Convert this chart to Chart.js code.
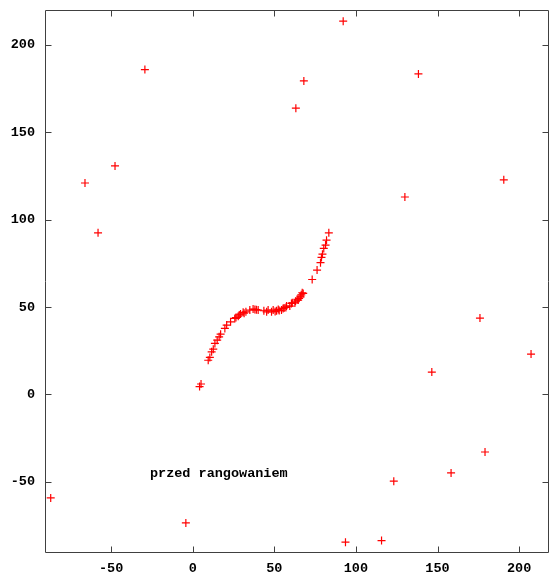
<!DOCTYPE html>
<html>
<head>
<meta charset="utf-8">
<script src="https://cdn.jsdelivr.net/npm/chart.js@4/dist/chart.umd.min.js"></script>
<style>
  body { margin: 0; background: #fff; }
</style>
</head>
<body>
<canvas id="scatter" width="550" height="577"></canvas>
<script>
// points on the curve
const curveX = [4.2, 5.1, 9.5, 10.5, 11.6, 12.6, 13.6, 15.0, 16.2, 17.1, 19.7, 20.8, 23.2, 25.8, 26.5, 27.9, 28.5, 29.3,
  30.9, 31.5, 32.6, 35.0, 37.0, 38.1, 39.0, 40.1, 43.6, 45.3, 46.2, 48.3, 49.3, 50.5, 51.4, 52.4, 53.0, 54.4, 55.4, 56.0, 57.1, 57.5,
  59.5, 60.5, 61.0, 62.6, 63.0, 64.0, 64.6, 65.2, 66.1, 66.5, 67.1, 67.7, 73.2, 76.2, 78.3, 78.9, 79.5, 80.3, 81.4, 82.0, 83.4];
const curveY = [4.5, 6.0, 19.6, 21.2, 24.4, 25.9, 29.2, 31.1, 33.0, 34.5, 37.8, 39.7, 41.6, 43.5, 44.0, 44.8, 45.5, 46.0,
  47.0, 46.5, 47.3, 48.3, 48.9, 48.7, 48.5, 48.3, 47.9, 47.3, 48.3, 47.3, 48.3, 47.5, 47.9, 48.7, 48.0, 48.3, 49.2, 49.5, 49.8, 50.6,
  50.6, 52.1, 52.5, 52.4, 53.4, 54.5, 54.0, 55.0, 55.9, 57.0, 58.2, 57.8, 65.8, 71.2, 75.4, 78.4, 80.3, 83.6, 85.5, 88.3, 92.5];

// scattered points
const outX = [-87.0, -4.2, 93.6, 115.7, 123.2, 158.3, 179.1, 146.5, 207.3, 176.0, 190.6, 130.0,
  138.3, 92.2, 68.1, 63.2, -29.3, -66.0, -47.6, -58.0];
const outY = [-59.2, -73.5, -84.5, -83.6, -49.6, -44.9, -32.9, 12.8, 23.1, 43.7, 122.8, 113.0,
  183.4, 213.6, 179.4, 163.8, 185.9, 121.0, 130.8, 92.5];

const xTicks = [-50, 0, 50, 100, 150, 200];
const yTicks = [-50, 0, 50, 100, 150, 200];
const noteText = "przed rangowaniem";
const noteX = -26.2, noteY = -45;

const points = [];
for (let i = 0; i < curveX.length; i++) points.push({ x: curveX[i], y: curveY[i] });
for (let i = 0; i < outX.length; i++) points.push({ x: outX[i], y: outY[i] });

const tickFont = { family: "'Liberation Mono', 'DejaVu Sans Mono', monospace", size: 13.5, weight: "bold" };

// gnuplot style frame with inward ticks on all four sides, plus the label
const framePlugin = {
  id: "frame",
  afterDraw(chart) {
    const ctx = chart.ctx;
    const a = chart.chartArea;
    const xs = chart.scales.x, ys = chart.scales.y;
    const L = Math.round(a.left) + 0.5, R = Math.round(a.right) - 0.5;
    const T = Math.round(a.top) + 0.5, B = Math.round(a.bottom) - 0.5;
    ctx.save();
    ctx.strokeStyle = "#404040";
    ctx.lineWidth = 1;
    ctx.beginPath();
    ctx.rect(L, T, R - L, B - T);
    xTicks.forEach(v => {
      const px = Math.round(xs.getPixelForValue(v)) + 0.5;
      ctx.moveTo(px, B); ctx.lineTo(px, B - 6);
      ctx.moveTo(px, T); ctx.lineTo(px, T + 6);
    });
    yTicks.forEach(v => {
      const py = Math.round(ys.getPixelForValue(v)) + 0.5;
      ctx.moveTo(L, py); ctx.lineTo(L + 6, py);
      ctx.moveTo(R, py); ctx.lineTo(R - 6, py);
    });
    ctx.stroke();
    ctx.fillStyle = "#000";
    ctx.font = "bold 13.5px " + tickFont.family;
    ctx.textAlign = "left";
    ctx.textBaseline = "middle";
    ctx.fillText(noteText, xs.getPixelForValue(noteX), ys.getPixelForValue(noteY));
    ctx.restore();
  }
};

new Chart(document.getElementById("scatter"), {
  type: "scatter",
  data: {
    datasets: [{
      data: points,
      pointStyle: "cross",
      pointRadius: 4,
      pointHoverRadius: 4,
      borderColor: "#ff0000",
      backgroundColor: "#ff0000",
      borderWidth: 1.2
    }]
  },
  options: {
    responsive: false,
    animation: false,
    devicePixelRatio: 1,
    layout: { autoPadding: false, padding: { top: 10, right: 1, left: 0, bottom: 0 } },
    plugins: { legend: { display: false }, tooltip: { enabled: false } },
    scales: {
      x: {
        type: "linear",
        min: -90.5,
        max: 218.3,
        afterBuildTicks: s => { s.ticks = xTicks.map(v => ({ value: v })); },
        afterFit: s => { s.height = 24; s.paddingLeft = 0; s.paddingRight = 0; },
        grid: { display: false, drawTicks: false },
        border: { display: false },
        ticks: { color: "#000", font: tickFont, padding: 7, maxRotation: 0 }
      },
      y: {
        type: "linear",
        min: -90.7,
        max: 220,
        afterBuildTicks: s => { s.ticks = yTicks.map(v => ({ value: v })); },
        afterFit: s => { s.width = 45; s.paddingTop = 0; s.paddingBottom = 0; },
        grid: { display: false, drawTicks: false },
        border: { display: false },
        ticks: { color: "#000", font: tickFont, padding: 10 }
      }
    }
  },
  plugins: [framePlugin]
});
</script>
</body>
</html>
